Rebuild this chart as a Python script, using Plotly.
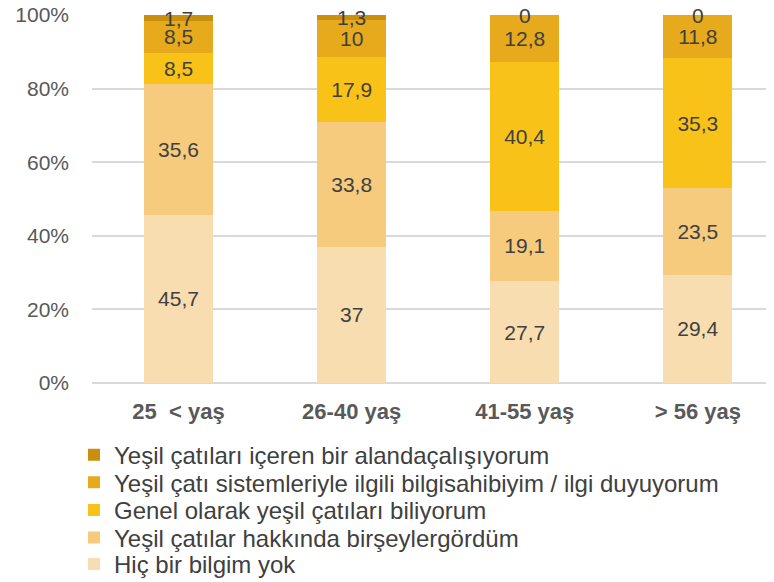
import plotly.graph_objects as go

categories = ["25  < yaş", "26-40 yaş", "41-55 yaş", "> 56 yaş"]

series_names = [
    "Hiç bir bilgim yok",
    "Yeşil çatılar hakkında birşeylergördüm",
    "Genel olarak yeşil çatıları biliyorum",
    "Yeşil çatı sistemleriyle ilgili bilgisahibiyim / ilgi duyuyorum",
    "Yeşil çatıları içeren bir alandaçalışıyorum",
]

hic = [45.7, 37, 27.7, 29.4]
gordum = [35.6, 33.8, 19.1, 23.5]
genel = [8.5, 17.9, 40.4, 35.3]
bilgi = [8.5, 10, 12.8, 11.8]
calisiyorum = [1.7, 1.3, 0, 0]

series_values = [hic, gordum, genel, bilgi, calisiyorum]
colors = ["#F8DDB0", "#F6CB7E", "#F9C218", "#E6AA1C", "#C8900E"]

y_ticks = [0, 20, 40, 60, 80, 100]
y_tick_labels = ["0%", "20%", "40%", "60%", "80%", "100%"]

FONT = "Liberation Sans"

# one legend box per series (bottom series -> lowest legend row)
legend_ids = ["legend5", "legend4", "legend3", "legend2", "legend"]
legend_rows_y = [-0.493, -0.421, -0.346, -0.271, -0.196]


def fmt(v):
    s = ("%g" % v)
    return s.replace(".", ",")


fig = go.Figure()
for i, (name, vals, col) in enumerate(zip(series_names, series_values, colors)):
    last = i == len(series_names) - 1
    fig.add_trace(go.Bar(
        x=categories,
        y=vals,
        name=name,
        legend=legend_ids[i],
        marker=dict(color=col, line=dict(width=0)),
        text=None if last else [fmt(v) for v in vals],
        texttemplate=None if last else "%{text}",
        textposition="none" if last else "inside",
        insidetextanchor="middle",
        insidetextfont=dict(family=FONT, size=21, color="#404040"),
        constraintext="none",
        width=0.4,
    ))

# labels of the top series, placed at the middle of its segment
for j, c in enumerate(categories):
    base = sum(s[j] for s in series_values[:-1])
    v = series_values[-1][j]
    fig.add_annotation(
        x=c, y=base + v / 2, text=fmt(v), showarrow=False,
        font=dict(family=FONT, size=21, color="#404040"),
        xanchor="center", yanchor="middle",
    )

legend_layout = {}
for lid, ly in zip(legend_ids, legend_rows_y):
    legend_layout[lid] = dict(
        orientation="v",
        x=-0.0264, xanchor="left",
        y=ly, yanchor="middle",
        font=dict(family=FONT, size=24, color="#404040"),
        itemwidth=30,
        bgcolor="rgba(0,0,0,0)",
    )

fig.update_layout(
    barmode="stack",
    width=766,
    height=582,
    margin=dict(l=84, r=0, t=7, b=207),
    paper_bgcolor="white",
    plot_bgcolor="white",
    font=dict(family=FONT, color="#595959"),
    showlegend=True,
    **legend_layout,
)

fig.update_xaxes(
    range=[-0.5, 3.44],
    automargin=False,
    showgrid=False,
    showline=False,
    ticks="",
    tickfont=dict(family=FONT, size=22, color="#595959", weight="bold"),
    ticklabelstandoff=13,
)

fig.update_yaxes(
    range=[0, 100],
    automargin=False,
    tickmode="array",
    tickvals=y_ticks,
    ticktext=y_tick_labels,
    ticklabeloverflow="allow",
    showgrid=True,
    gridcolor="#D9D9D9",
    gridwidth=1.5,
    zeroline=True,
    zerolinecolor="#D9D9D9",
    zerolinewidth=1.5,
    showline=False,
    ticks="",
    tickfont=dict(family=FONT, size=21, color="#595959"),
    ticklabelstandoff=22,
)

fig.write_html("out.html")
